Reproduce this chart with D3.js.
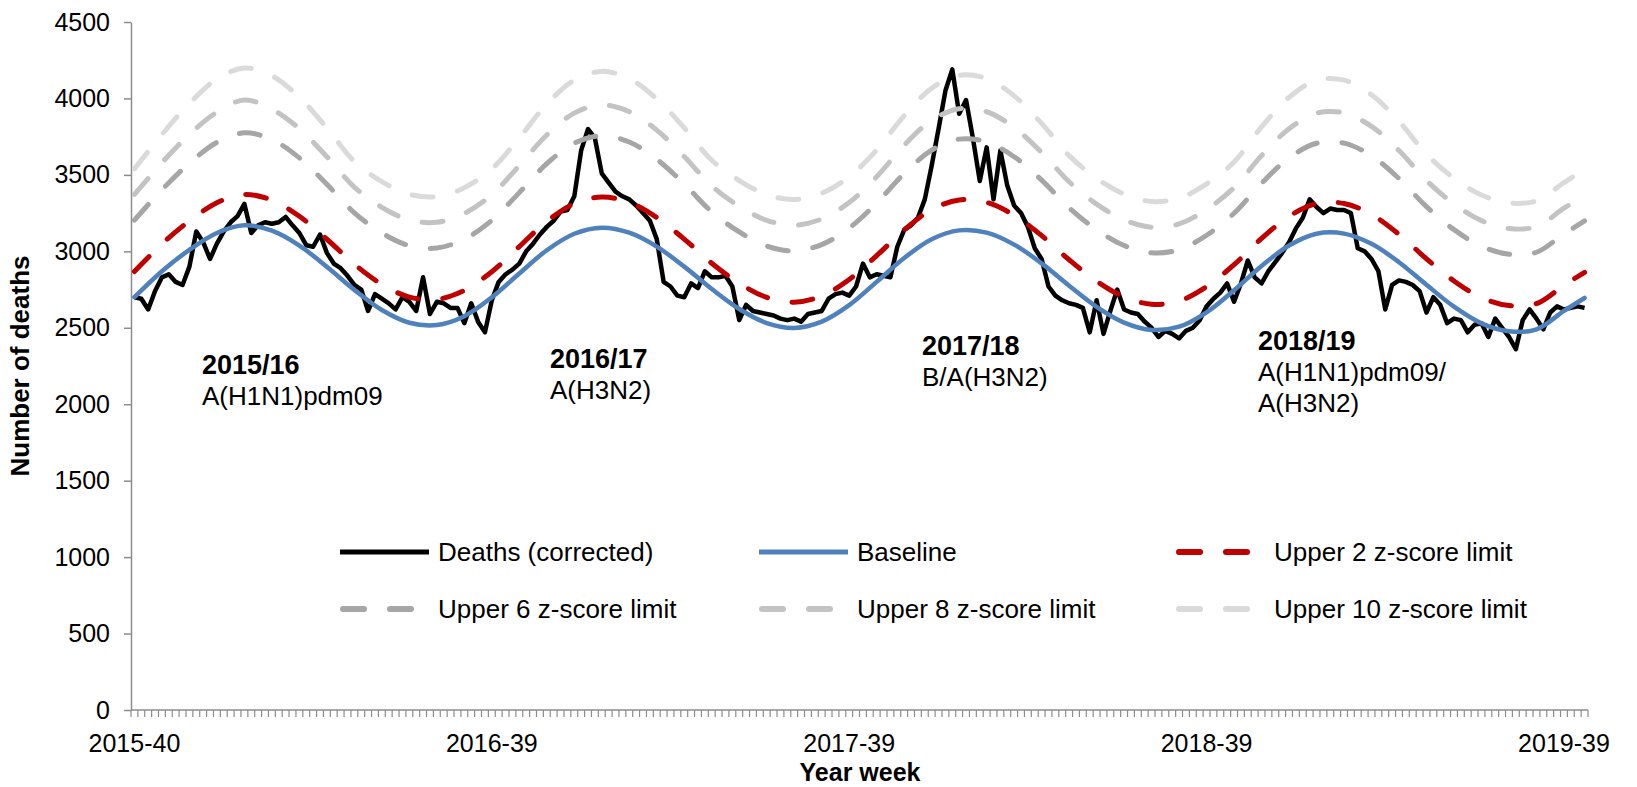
<!DOCTYPE html>
<html>
<head>
<meta charset="utf-8">
<script src="https://cdn.jsdelivr.net/npm/d3@7"></script>
<style>
  body { margin: 0; background: #fff; }
  svg { display: block; font-family: 'Liberation Sans', Arial, sans-serif; }
  .axis path, .axis line { stroke: #8c8c8c; }
  .axis text { font-size: 25px; fill: #000; }
</style>
</head>
<body>
<svg></svg>
<script>
var width = 1637;
var height = 787;

// weekly categories 2015-40 .. 2019-42 (2015 has 53 iso weeks)
var weeks = [];
[[2015, 40, 53], [2016, 1, 52], [2017, 1, 52], [2018, 1, 52], [2019, 1, 42]].forEach(r => {
	for (var w = r[1]; w <= r[2]; w++) weeks.push(r[0] + '-' + (w < 10 ? '0' + w : w));
});

var xTickLabels = ['2015-40', '2016-39', '2017-39', '2018-39', '2019-39'];
var yTicks = [0, 500, 1000, 1500, 2000, 2500, 3000, 3500, 4000, 4500];

// deaths (corrected), one value per week
var deaths = [
	2700,2690,2620,2740,2830,2850,2800,2780,2900,3130,
	3060,2950,3050,3130,3190,3230,3310,3120,3170,3190,
	3180,3190,3225,3170,3120,3040,3030,3110,2990,2920,
	2890,2840,2780,2750,2610,2720,2690,2660,2620,2700,
	2670,2610,2830,2590,2670,2660,2630,2630,2530,2660,
	2540,2470,2680,2800,2850,2880,2920,3000,3050,3110,
	3160,3200,3260,3270,3360,3660,3800,3740,3510,3450,
	3390,3360,3340,3300,3250,3200,3080,2800,2770,2710,2700,
	2790,2760,2870,2830,2830,2840,2770,2550,2650,2610,
	2600,2590,2580,2560,2550,2560,2540,2590,2600,2610,
	2690,2720,2730,2710,2770,2920,2830,2850,2840,2830,
	3030,3140,3170,3220,3340,3560,3800,4050,4190,3900,
	3990,3740,3460,3680,3340,3660,3430,3300,3250,3160,
	3020,2950,2770,2710,2680,2660,2650,2630,2470,2680,
	2460,2610,2750,2620,2600,2590,2540,
	2500,2440,2480,2460,2430,2480,2500,2550,2640,2690,
	2730,2790,2670,2790,2940,2830,2790,2870,2930,2990,
	3060,3150,3220,3340,3290,3250,3280,3270,3270,3250,
	3020,3000,2950,2870,2620,2780,2810,2800,2780,2740,
	2600,2700,2650,2530,2560,2550,2470,2520,2530,2440,
	2560,2500,2440,2360,2550,2620,2560,2490,2600,2640,
	2620,2630,2640,2630
];

// smooth series, read every 4th week (index into weeks)
var sampleWeeks = [0,4,8,12,16,20,24,28,32,36,40,44,48,52,56,60,64,68,72,76,80,84,88,92,96,100,
	104,108,112,116,120,124,128,132,136,140,144,148,152,156,160,164,168,172,176,180,184,188,192,196,200,204,208,211];
var baseline = [2700,2870,3010,3120,3170,3135,3038,2899,2748,2616,2533,2518,2576,2699,2855,3007,3115,3155,
	3122,3031,2900,2754,2623,2531,2499,2540,2648,2800,2956,3079,3137,3122,3044,2921,2775,2637,2534,2486,
	2507,2601,2745,2904,3038,3115,3116,3049,2929,2781,2638,2529,2477,2490,2610,2695];
var upper2 = [2868,3048,3199,3318,3372,3334,3229,3079,2916,2784,2701,2686,2744,2867,3031,3196,3312,3355,
	3320,3221,3080,2922,2791,2699,2667,2708,2816,2972,3140,3273,3336,3320,3236,3103,2945,2805,2702,2654,
	2675,2769,2913,3084,3229,3312,3313,3241,3111,2951,2806,2697,2645,2658,2778,2863];
var upper6 = [3204,3403,3576,3713,3775,3731,3611,3439,3252,3120,3037,3022,3080,3203,3384,3573,3707,3756,
	3715,3602,3440,3259,3127,3035,3003,3044,3152,3316,3509,3662,3734,3715,3619,3466,3285,3141,3038,2990,
	3011,3105,3249,3445,3611,3707,3708,3625,3476,3292,3142,3033,2981,2994,3114,3199];
var upper8 = [3372,3580,3765,3910,3990,3930,3802,3619,3420,3288,3205,3190,3248,3371,3561,3761,3904,3957,
	3913,3793,3620,3428,3295,3203,3171,3212,3320,3488,3694,3857,3933,3913,3810,3647,3455,3309,3206,3158,
	3179,3273,3417,3626,3802,3904,3905,3817,3659,3463,3310,3201,3149,3162,3282,3367];
var upper10 = [3540,3764,3967,4127,4199,4148,4007,3807,3588,3456,3373,3358,3416,3539,3742,3963,4119,4177,
	4130,3997,3807,3596,3463,3371,3339,3380,3488,3663,3888,4067,4151,4130,4017,3837,3626,3477,3374,3326,
	3347,3441,3585,3814,4007,4119,4120,4024,3850,3635,3478,3369,3317,3330,3450,3535];

var seriesNames = ['Deaths (corrected)', 'Baseline', 'Upper 2 z-score limit',
	'Upper 6 z-score limit', 'Upper 8 z-score limit', 'Upper 10 z-score limit'];
var seriesColors = ['#000000', '#4f81bd', '#c00000', '#a6a6a6', '#c3c3c3', '#dadada'];

var seasons = ['2015/16', '2016/17', '2017/18', '2018/19'];
var seasonStrains = [['A(H1N1)pdm09'], ['A(H3N2)'], ['B/A(H3N2)'], ['A(H1N1)pdm09/', 'A(H3N2)']];

var svg = d3.select('svg')
			.attr('width', width)
			.attr('height', height);

var xScale = d3.scaleBand()
			   .domain(weeks)
			   .range([131, 1588]);
var yScale = d3.scaleLinear()
			   .domain([0, 4500])
			   .range([710, 22]);
var cx = w => xScale(w) + xScale.bandwidth() / 2;

var yAxis = d3.axisLeft(yScale)
			  .tickValues(yTicks)
			  .tickFormat(d3.format('d'))
			  .tickSize(7)
			  .tickPadding(14)
			  .tickSizeOuter(0);

svg.append('g')
	.classed('axis', true)
	.attr('transform', 'translate(131, 0)')
	.call(yAxis)
	.call(g => g.selectAll('path, line').attr('stroke-width', 1.5));

// x axis: a tick at every week boundary, labels once a year
var xAxisG = svg.append('g').classed('axis', true);
xAxisG.append('line')
	.attr('x1', 131).attr('x2', 1588)
	.attr('y1', 710).attr('y2', 710)
	.attr('stroke-width', 1.5);
xAxisG.selectAll('.wtick')
	.data(weeks.concat(['end']))
	.enter()
	.append('line')
	  .classed('wtick', true)
	  .attr('x1', d => d === 'end' ? 1588 : xScale(d))
	  .attr('x2', d => d === 'end' ? 1588 : xScale(d))
	  .attr('y1', 710)
	  .attr('y2', 717)
	  .attr('stroke-width', 1.2);

svg.append('g')
	.classed('axis', true)
	.attr('transform', 'translate(0, 710)')
	.call(d3.axisBottom(xScale).tickValues(xTickLabels).tickSize(0).tickPadding(24))
	.call(g => g.select('.domain').remove());

svg.append('text')
	.attr('text-anchor', 'middle')
	.attr('transform', 'translate(29, 366) rotate(-90)')
	.attr('font-size', '26px')
	.attr('font-weight', 'bold')
	.text('Number of deaths');
svg.append('text')
	.attr('text-anchor', 'middle')
	.attr('x', 860)
	.attr('y', 781)
	.attr('font-size', '25px')
	.attr('font-weight', 'bold')
	.text('Year week');

// lines
var weeklyLine = d3.line()
				   .x((d, i) => cx(weeks[i]))
				   .y(d => yScale(d));
var smoothLine = d3.line()
				   .curve(d3.curveCatmullRom)
				   .x((d, i) => cx(weeks[sampleWeeks[i]]))
				   .y(d => yScale(d));

var smoothSeries = [baseline, upper2, upper6, upper8, upper10];

svg.append('path')
	.attr('d', weeklyLine(deaths))
	.attr('fill', 'none')
	.attr('stroke', seriesColors[0])
	.attr('stroke-width', 4.5)
	.attr('stroke-linejoin', 'round');

smoothSeries.forEach((s, k) => {
	svg.append('path')
		.attr('d', smoothLine(s))
		.attr('fill', 'none')
		.attr('stroke', seriesColors[k + 1])
		.attr('stroke-width', k === 0 ? 4.5 : 5)
		.attr('stroke-linecap', 'round')
		.attr('stroke-dasharray', k === 0 ? null : '21,25');
});

// season annotations
seasons.forEach((s, k) => {
	var t = svg.append('text')
			   .attr('x', [202, 550, 922, 1258][k])
			   .attr('y', [374, 368, 355, 350][k])
			   .attr('font-size', '26px');
	t.append('tspan')
		.attr('font-weight', 'bold')
		.attr('font-size', '27px')
		.text(s);
	seasonStrains[k].forEach(line => {
		t.append('tspan')
			.attr('x', [202, 550, 922, 1258][k])
			.attr('dy', 31)
			.text(line);
	});
});

// legend
var legendX = [340, 759, 1176];
var legendY = [552, 609];
seriesNames.forEach((name, k) => {
	var lx = legendX[k % 3];
	var ly = legendY[Math.floor(k / 3)];
	var g = svg.append('g');
	g.append('line')
		.attr('x1', k < 2 ? lx : lx + 3)
		.attr('x2', lx + 89)
		.attr('y1', ly)
		.attr('y2', ly)
		.attr('stroke', seriesColors[k])
		.attr('stroke-width', k < 2 ? 5 : 6)
		.attr('stroke-linecap', k < 2 ? 'butt' : 'round')
		.attr('stroke-dasharray', k < 2 ? null : '21,26');
	g.append('text')
		.attr('x', lx + 98)
		.attr('y', ly)
		.attr('dy', '0.35em')
		.attr('font-size', '26px')
		.text(name);
});
</script>
</body>
</html>
